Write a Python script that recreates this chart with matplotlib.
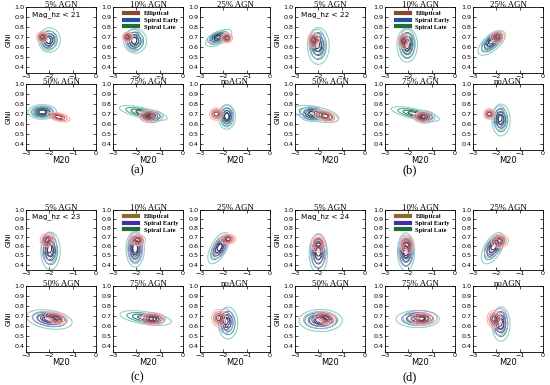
import numpy as np
import matplotlib
matplotlib.use("Agg")
import matplotlib.pyplot as plt
from matplotlib.lines import Line2D

# subplot titles and magnitude cuts
TITLES = ["5% AGN", "10% AGN", "25% AGN", "50% AGN", "75% AGN", "noAGN"]
MAG_CUTS = ["Mag_hz < 21", "Mag_hz < 22", "Mag_hz < 23", "Mag_hz < 24"]
PANEL_LABELS = ["(a)", "(b)", "(c)", "(d)"]
CLASSES = ["Elliptical", "Spiral Early", "Spiral Late"]

# density blobs: (M20 centre, GINI centre, sx, sy, corr)
ELL_A = [(-2.30, 0.700, 0.10, 0.022, 0.0), (-2.38, 0.700, 0.09, 0.020, 0.0),
         (-1.85, 0.690, 0.10, 0.020, 0.0), (-1.60, 0.670, 0.20, 0.020, -0.5),
         (-1.50, 0.680, 0.15, 0.025, 0.0), (-2.30, 0.700, 0.12, 0.025, 0.0)]
EARLY_A = [(-2.05, 0.665, 0.14, 0.040, 0.0), (-2.10, 0.665, 0.15, 0.045, 0.0),
           (-2.25, 0.700, 0.18, 0.025, 0.5), (-2.30, 0.720, 0.20, 0.025, 0.0),
           (-1.35, 0.675, 0.20, 0.025, 0.0), (-1.85, 0.680, 0.12, 0.045, 0.0)]
LATE_A = [(-2.00, 0.670, 0.19, 0.050, 0.0), (-2.05, 0.660, 0.20, 0.050, 0.0),
          (-2.20, 0.690, 0.23, 0.035, 0.6), (-2.30, 0.720, 0.25, 0.030, 0.0),
          (-1.70, 0.710, 0.42, 0.030, -0.7), (-1.85, 0.670, 0.15, 0.050, 0.0)]

ELL_B = [(-2.20, 0.670, 0.10, 0.030, 0.0), (-2.20, 0.660, 0.10, 0.030, 0.0),
         (-1.95, 0.700, 0.12, 0.025, 0.0), (-1.70, 0.680, 0.22, 0.025, -0.5),
         (-1.40, 0.670, 0.15, 0.022, 0.0), (-2.30, 0.700, 0.10, 0.022, 0.0)]
EARLY_B = [(-2.05, 0.630, 0.14, 0.060, 0.0), (-2.05, 0.630, 0.14, 0.060, 0.0),
           (-2.20, 0.660, 0.18, 0.040, 0.6), (-2.30, 0.700, 0.20, 0.030, 0.0),
           (-1.30, 0.670, 0.18, 0.025, 0.0), (-1.85, 0.660, 0.12, 0.050, 0.0)]
LATE_B = [(-2.00, 0.610, 0.19, 0.075, 0.0), (-2.05, 0.620, 0.18, 0.070, 0.0),
          (-2.20, 0.640, 0.24, 0.050, 0.65), (-2.10, 0.700, 0.40, 0.035, -0.5),
          (-1.70, 0.700, 0.42, 0.030, -0.7), (-1.80, 0.640, 0.16, 0.065, 0.0)]

ELL_C = [(-2.10, 0.670, 0.12, 0.030, 0.0), (-1.95, 0.670, 0.14, 0.025, 0.0),
         (-1.80, 0.680, 0.14, 0.022, 0.0), (-1.70, 0.680, 0.20, 0.025, -0.4),
         (-1.30, 0.670, 0.20, 0.025, 0.0), (-2.20, 0.680, 0.12, 0.035, 0.0)]
EARLY_C = [(-2.00, 0.580, 0.13, 0.070, 0.0), (-2.05, 0.580, 0.13, 0.070, 0.0),
           (-2.15, 0.590, 0.14, 0.050, 0.5), (-2.00, 0.670, 0.30, 0.030, -0.3),
           (-1.30, 0.670, 0.22, 0.025, 0.0), (-1.90, 0.650, 0.13, 0.050, 0.0)]
LATE_C = [(-1.95, 0.550, 0.17, 0.085, 0.0), (-2.05, 0.570, 0.16, 0.080, 0.0),
          (-2.20, 0.580, 0.19, 0.070, 0.6), (-2.00, 0.665, 0.40, 0.040, -0.3),
          (-1.60, 0.680, 0.45, 0.030, -0.5), (-1.80, 0.630, 0.17, 0.065, 0.0)]

ELL_D = [(-2.00, 0.630, 0.12, 0.040, 0.0), (-2.05, 0.620, 0.12, 0.040, 0.0),
         (-1.85, 0.660, 0.15, 0.030, 0.0), (-1.70, 0.680, 0.18, 0.025, -0.3),
         (-1.40, 0.670, 0.20, 0.025, 0.0), (-2.10, 0.670, 0.12, 0.035, 0.0)]
EARLY_D = [(-2.00, 0.550, 0.14, 0.075, 0.0), (-2.10, 0.550, 0.13, 0.070, 0.0),
           (-2.10, 0.600, 0.17, 0.050, 0.5), (-1.90, 0.660, 0.30, 0.035, 0.0),
           (-1.50, 0.680, 0.30, 0.030, 0.0), (-1.85, 0.640, 0.14, 0.055, 0.0)]
LATE_D = [(-2.00, 0.520, 0.16, 0.090, 0.0), (-2.10, 0.540, 0.15, 0.085, 0.0),
          (-2.15, 0.580, 0.20, 0.070, 0.55), (-1.90, 0.655, 0.38, 0.045, 0.0),
          (-1.60, 0.670, 0.38, 0.035, 0.0), (-1.80, 0.620, 0.16, 0.070, 0.0)]

PANELS = [(ELL_A, EARLY_A, LATE_A), (ELL_B, EARLY_B, LATE_B),
          (ELL_C, EARLY_C, LATE_C), (ELL_D, EARLY_D, LATE_D)]

LEVELS = [0.05, 0.2, 0.45, 0.75]
ELL_COLS = ["#f4b0b0", "#e08484", "#c05c5c", "#8a3c3c"]
BLUE_COLS = ["#98b4d8", "#6683ae", "#435e88", "#2a3d63"]
PURPLE_COLS = ["#b1a2d6", "#8470b6", "#5d4a92", "#3c2e69"]
GREEN_COLS = ["#86d2bd", "#4aa191", "#2d776b", "#1c4c47"]
LEG_COLS = [["#8b4a2b", "#2050a0", "#1f6b3a"], ["#8b4a2b", "#2050a0", "#1f6b3a"],
            ["#8b6a2b", "#4b2aa0", "#1f6b3a"], ["#8b6a2b", "#4b2aa0", "#1f6b3a"]]

SERIF = "Liberation Serif"

xg = np.linspace(-3, 0, 240)
yg = np.linspace(0.34, 1.0, 240)
X, Y = np.meshgrid(xg, yg)


def blob(p):
    mx, my, sx, sy, r = p
    u = (X - mx) / sx
    v = (Y - my) / sy
    return np.exp(-(u * u - 2 * r * u * v + v * v) / (2 * (1 - r * r)))


fig = plt.figure(figsize=(5.5, 3.85), dpi=100)
W, H = 550.0, 385.0

col_left = [[26, 113, 200], [295, 385, 473]]
ax_w = 70
# (top, bottom) in pixels for each row of the upper and lower panel pairs
row_px = [[(7, 73), (84, 150)], [(210, 270), (286, 352)]]

for p, (ell, early, late) in enumerate(PANELS):
    pr, pc = divmod(p, 2)
    early_cols = BLUE_COLS if pr == 0 else PURPLE_COLS
    for k in range(6):
        r, c = divmod(k, 3)
        top, bot = row_px[pr][r]
        left = col_left[pc][c]
        ax = fig.add_axes([left / W, 1 - bot / H, ax_w / W, (bot - top) / H])
        ax.contour(X, Y, blob(late[k]), levels=LEVELS, colors=GREEN_COLS, linewidths=0.75)
        ax.contour(X, Y, blob(early[k]), levels=LEVELS, colors=early_cols, linewidths=0.75)
        ax.contour(X, Y, blob(ell[k]), levels=LEVELS, colors=ELL_COLS, linewidths=0.75)
        ax.set_xlim(-3, 0)
        ax.set_ylim(0.34, 1.0)
        ax.set_xticks([-3, -2, -1, 0])
        ax.set_yticks([0.4, 0.5, 0.6, 0.7, 0.8, 0.9, 1.0])
        ax.tick_params(direction="in", top=True, right=True, length=2.5, width=0.5,
                       labelsize=4.6, pad=1)
        ax.tick_params(axis="x", pad=0.5)
        for s in ax.spines.values():
            s.set_linewidth(0.6)
        ax.text(0.5, 0.97, TITLES[k], transform=ax.transAxes, ha="center", va="bottom",
                fontsize=6.3, family=SERIF)
        if k == 0:
            ax.text(0.08, 0.86, MAG_CUTS[p], transform=ax.transAxes, fontsize=5.3)
        if c == 0:
            ax.set_ylabel("GINI", fontsize=5, labelpad=2)
        if r == 1:
            ax.set_xlabel("M20", fontsize=6, labelpad=0.5)
        if k == 1:
            handles = [Line2D([], [], color=LEG_COLS[p][i], lw=3) for i in range(3)]
            ax.legend(handles, CLASSES, loc="upper left", bbox_to_anchor=(0.1, 1.0),
                      frameon=False, handlelength=2.2, labelspacing=0.15,
                      handletextpad=0.8, borderaxespad=0.2,
                      prop={"family": SERIF, "size": 4.7, "weight": "bold"})

# panel labels
for p, lab in enumerate(PANEL_LABELS):
    pr, pc = divmod(p, 2)
    x = [137, 410][pc]
    y = [170, 377][pr]
    fig.text(x / W, 1 - y / H, lab, ha="center", va="center", fontsize=9, family=SERIF)

fig.savefig("out.png", dpi=100)
